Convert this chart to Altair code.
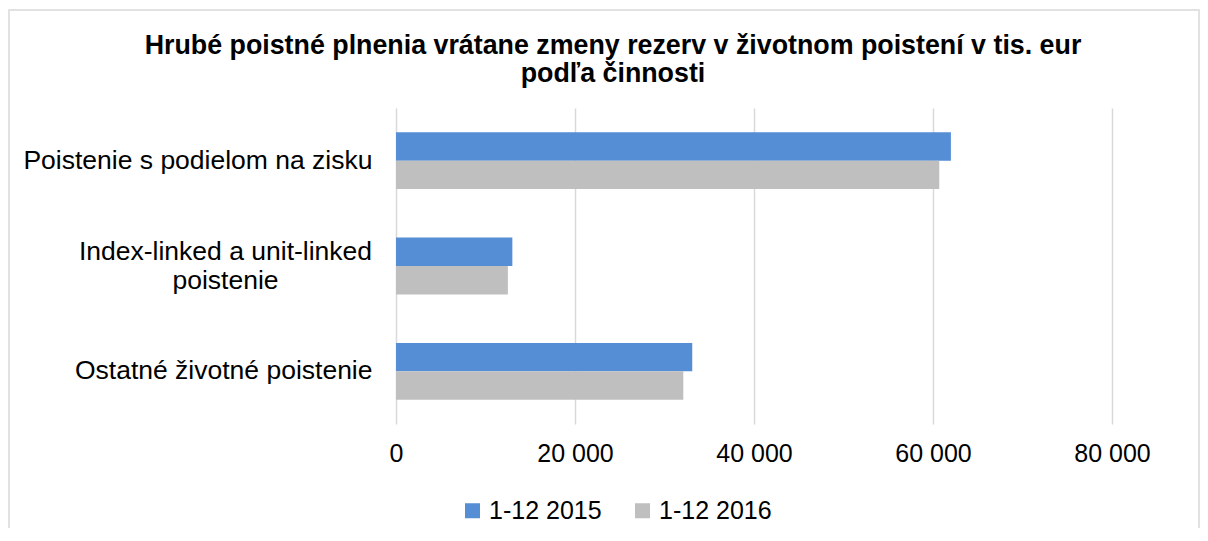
import altair as alt
import pandas as pd

categories = ["Poistenie s podielom na zisku", "Index-linked a unit-linked poistenie", "Ostatné životné poistenie"]
series = ["1-12 2015", "1-12 2016"]
values_2015 = [62000, 13000, 33100]
values_2016 = [60700, 12500, 32100]
x_ticks = [0, 20000, 40000, 60000, 80000]
title_lines = ["Hrubé poistné plnenia vrátane zmeny rezerv v životnom poistení v tis. eur", "podľa činnosti"]
colors = ["#558ED5", "#BFBFBF"]

rows = []
for c, v in zip(categories, values_2015):
    rows.append({"cat": c, "series": series[0], "value": v})
for c, v in zip(categories, values_2016):
    rows.append({"cat": c, "series": series[1], "value": v})
df = pd.DataFrame(rows)

FONT = "Liberation Sans"
wrap_label = categories[1]
test = "datum.value == '" + wrap_label + "'"

bars = alt.Chart(df).mark_bar().encode(
    y=alt.Y("cat:N", sort=categories, title=None,
            scale=alt.Scale(paddingInner=0.46, paddingOuter=0.23),
            axis=alt.Axis(
                labelExpr=test + " ? ['Index-linked a unit-linked', 'poistenie'] : datum.value",
                labelAlign={"condition": {"test": test, "value": "center"}, "value": "right"},
                labelPadding={"condition": {"test": test, "value": 171}, "value": 24},
                labelOffset={"condition": {"test": test, "value": -14}, "value": 0},
                labelFont=FONT, labelFontSize=26.5, labelColor="#000000",
                labelLineHeight=29, labelLimit=500,
                ticks=False, tickSize=0, domain=False, grid=False)),
    yOffset=alt.YOffset("series:N", sort=series),
    x=alt.X("value:Q", title=None,
            scale=alt.Scale(domain=[0, 80000], nice=False),
            axis=alt.Axis(values=x_ticks,
                          labelExpr="replace(format(datum.value, ','), ',', ' ')",
                          labelFont=FONT, labelFontSize=25, labelColor="#000000",
                          labelFlush=False, labelOverlap=False,
                          labelPadding=17, ticks=False, tickSize=0, domain=False,
                          grid=True, gridColor="#D9D9D9", gridWidth=1.5)),
    color=alt.Color("series:N", sort=series,
                    scale=alt.Scale(domain=series, range=colors),
                    legend=alt.Legend(title=None, orient="none", direction="horizontal",
                                      legendX=64, legendY=390,
                                      symbolType="square", symbolSize=225, symbolStrokeWidth=0,
                                      labelFont=FONT, labelFontSize=25, labelColor="#000000",
                                      labelOffset=4, columnPadding=28, labelLimit=300)),
)

frame = alt.Chart(pd.DataFrame({"a": [0]})).mark_rect(
    fillOpacity=0, stroke="#D9D9D9", strokeWidth=1.5
).encode(x=alt.value(-387), x2=alt.value(803), y=alt.value(-98), y2=alt.value(600))

chart = alt.layer(frame, bars).properties(
    width=716, height=316,
    title=alt.TitleParams(text=title_lines, font=FONT, fontSize=26.8, fontWeight="bold",
                          color="#000000", anchor="middle", dx=-141, lineHeight=28, offset=-79),
    autosize=alt.AutoSizeParams(type="none"),
    padding={"left": 388, "top": 100, "right": 88, "bottom": 104},
).configure_view(strokeWidth=0)

chart.save("out.html", embed_options={"renderer": "svg", "actions": False})
